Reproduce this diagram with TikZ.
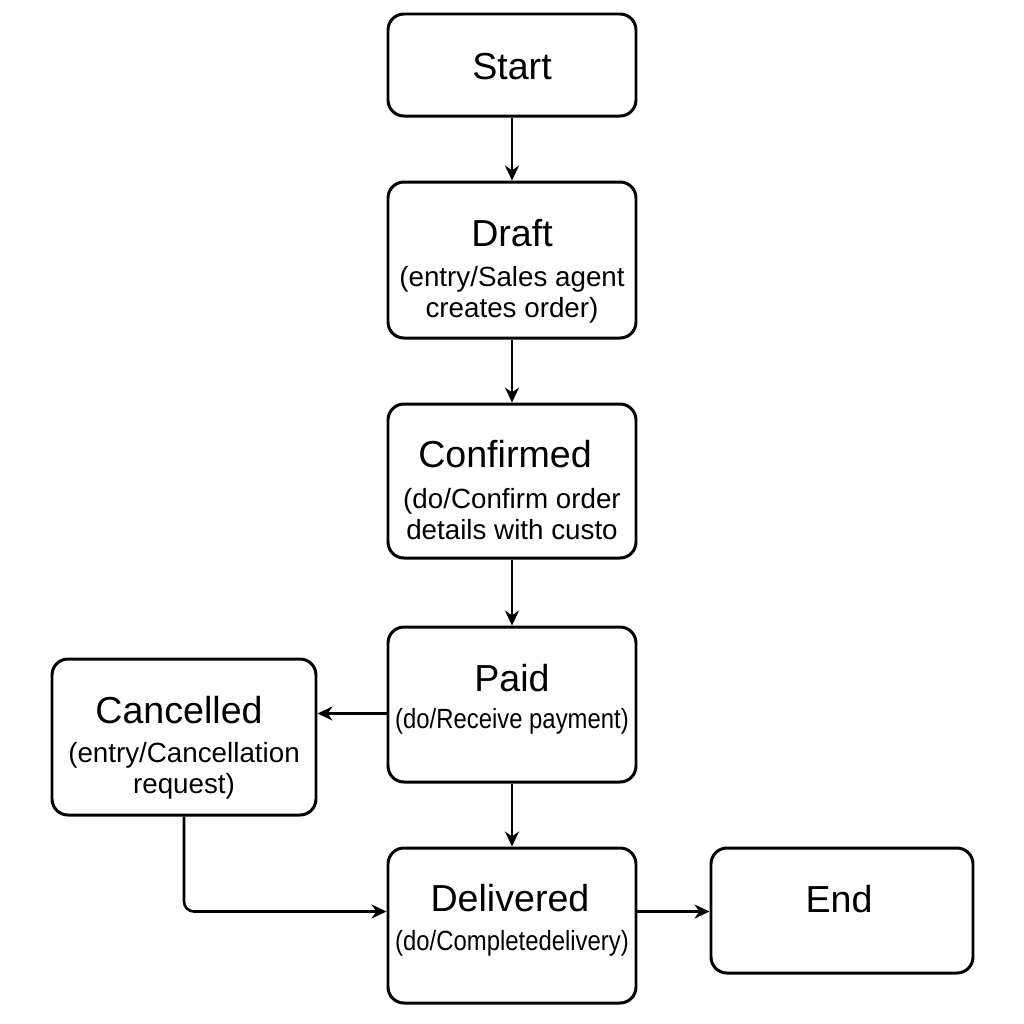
\documentclass[tikz,border=0pt]{standalone}
\usepackage{fontspec}
\setmainfont{Liberation Sans}
\usepackage{tikz}
\usetikzlibrary{arrows.meta}
\tikzset{
  statebox/.style={draw, line width=0.85pt, rounded corners=0.16cm, fill=white, inner sep=0pt},
  titletext/.style={font=\fontsize{10.7}{13}\selectfont, inner sep=0pt},
  subtext/.style={font=\fontsize{7.9}{8.8}\selectfont, align=center, inner sep=0pt},
  flow/.style={line width=0.75pt, -{Stealth[length=1.5mm, width=1.4mm]}}
}
\newcommand{\statebox}[5]{\node[statebox, minimum width=#4cm, minimum height=#5cm] (#1) at ( #2 , #3 ) {};}
\newcommand{\lbltitle}[4]{\node[titletext] (#1) at ( #2 , #3 ) {#4};}
\newcommand{\lblsub}[4]{\node[subtext] (#1) at ( #2 , #3 ) {#4};}
\newcommand{\lblnarrow}[4]{\node[subtext] (#1) at ( #2 , #3 ) {\scalebox{0.86}[1]{#4}};}
\begin{document}
\begin{tikzpicture}
        \useasboundingbox (0,0) rectangle (10.24,-10.24);
        % boxes
        \statebox{start}{5.12}{-0.65}{2.48}{1.02}
        \statebox{draft}{5.12}{-2.60}{2.48}{1.56}
        \statebox{confirmed}{5.12}{-4.81}{2.48}{1.54}
        \statebox{paid}{5.12}{-7.045}{2.48}{1.55}
        \statebox{delivered}{5.12}{-9.255}{2.48}{1.55}
        \statebox{cancelled}{1.84}{-7.37}{2.64}{1.56}
        \statebox{end}{8.42}{-9.105}{2.62}{1.25}

        % titles
        \lbltitle{startT}{5.12}{-0.67}{Start}
        \lbltitle{draftT}{5.12}{-2.33}{Draft}
        \lbltitle{confirmedT}{5.05}{-4.54}{Confirmed}
        \lbltitle{paidT}{5.12}{-6.78}{Paid}
        \lbltitle{deliveredT}{5.10}{-8.98}{Delivered}
        \lbltitle{cancelledT}{1.79}{-7.10}{Cancelled}
        \lbltitle{endT}{8.39}{-8.99}{End}

        % activities
        \lblsub{draftS}{5.12}{-2.945}{(entry/Sales agent\\creates order)}
        \lblsub{confirmedS}{5.12}{-5.14}{(do/Confirm order\\details with custo}
        \lblnarrow{paidS}{5.12}{-7.21}{(do/Receive payment)}
        \lblnarrow{deliveredS}{5.12}{-9.43}{(do/Completedelivery)}
        \lblsub{cancelledS}{1.84}{-7.705}{(entry/Cancellation\\request)}

        % transitions
        \draw[flow] (start) -- (draft);
        \draw[flow] (draft) -- (confirmed);
        \draw[flow] (confirmed) -- (paid);
        \draw[flow] (paid) -- (delivered);
        \draw[flow] ([yshift=-0.09cm]paid.west) -- ([yshift=-0.09cm]paid.west -| cancelled.east);
        \draw[flow, rounded corners=0.1cm] (cancelled.south) |- ([yshift=0.14cm]delivered.west);
        \draw[flow] ([yshift=0.14cm]delivered.east) -- ([yshift=0.14cm]delivered.east -| end.west);
\end{tikzpicture}
\end{document}
